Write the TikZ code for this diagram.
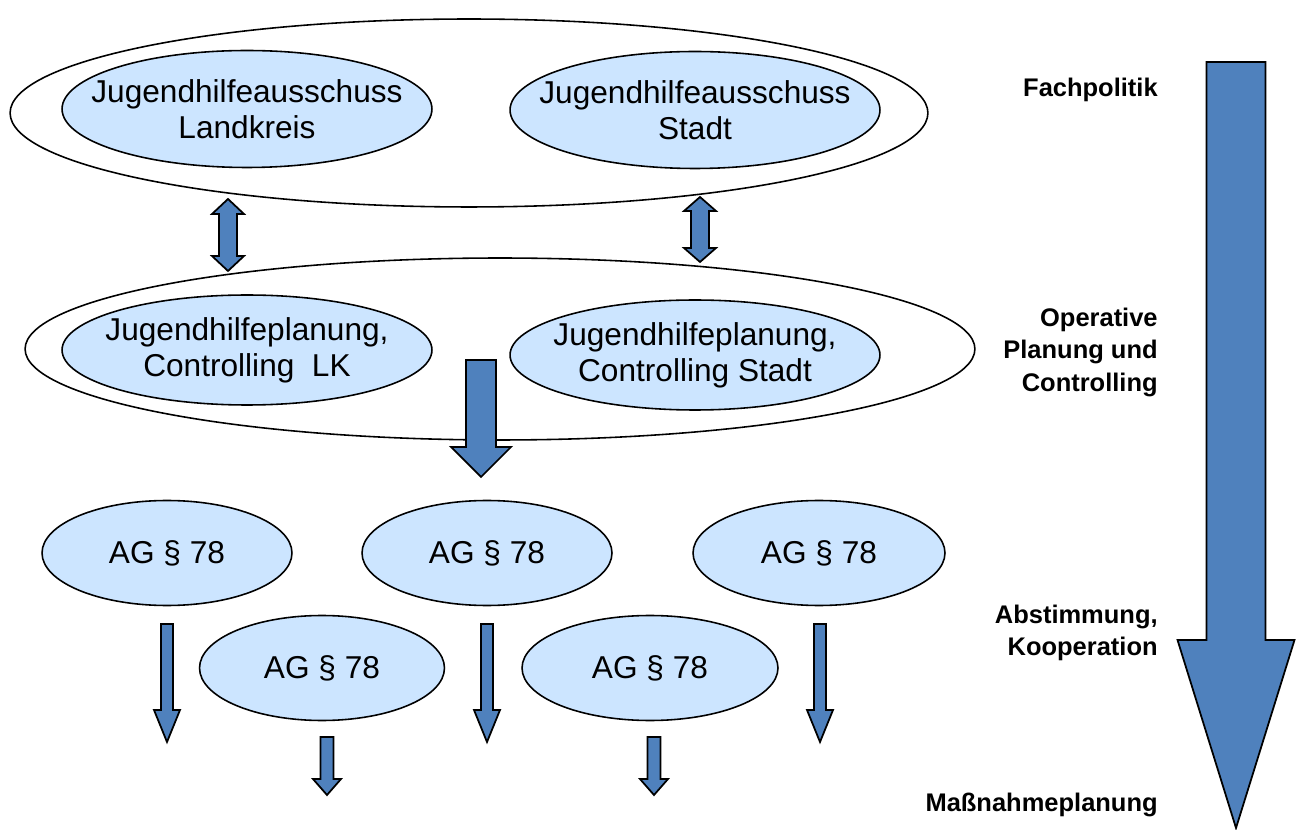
\documentclass[tikz,border=0pt]{standalone}
\usepackage{fontspec}
\setmainfont{Liberation Sans}
\usepackage{tikz}
\usetikzlibrary{shapes.geometric, positioning}

\definecolor{ellblau}{RGB}{204,229,255}
\definecolor{pfeilblau}{RGB}{79,129,189}

\tikzset{
  rahmen/.style={
    ellipse,
    draw=black,
    line width=0.9pt,
    fill=white
  },
  gremium/.style={
    ellipse,
    draw=black,
    line width=0.9pt,
    fill=ellblau,
    align=center,
    inner xsep=-0.6cm,
    inner ysep=0pt,
    font=\fontsize{18}{20.5}\selectfont
  },
  ebene/.style={
    anchor=east,
    align=right,
    inner sep=0pt,
    font=\fontsize{14.5}{18.5}\selectfont\bfseries
  },
  blockarrow/.style={
    draw=black,
    line width=1pt,
    fill=pfeilblau,
    line join=miter
  }
}

% Blockpfeil nach unten: x, oben, Schulter, Spitze, halbe Schaftbreite, halbe Kopfbreite
\newcommand{\abpfeil}[6]{%
  \draw[blockarrow] (#1-#5,#2) -- (#1+#5,#2) -- (#1+#5,#3) -- (#1+#6,#3)
    -- (#1,#4) -- (#1-#6,#3) -- (#1-#5,#3) -- cycle;}

% Doppelpfeil: x, Spitze oben, Schulter oben, Schulter unten, Spitze unten, halbe Schaftbreite, halbe Kopfbreite
\newcommand{\doppelpfeil}[7]{%
  \draw[blockarrow] (#1,#2) -- (#1+#7,#3) -- (#1+#6,#3) -- (#1+#6,#4) -- (#1+#7,#4)
    -- (#1,#5) -- (#1-#7,#4) -- (#1-#6,#4) -- (#1-#6,#3) -- (#1-#7,#3) -- cycle;}

\begin{document}
\begin{tikzpicture}[x=0.02cm, y=-0.02cm]
  \useasboundingbox (0,0) rectangle (1301,830);

  % Ebene Fachpolitik
  \node[rahmen, minimum width=18.36cm, minimum height=3.76cm] (politik) at (469,113) {};
  \node[gremium, minimum width=7.4cm, minimum height=2.34cm] (jhalk) at (247,109) {Jugendhilfeausschuss\\Landkreis};
  \node[gremium, minimum width=7.4cm, minimum height=2.34cm] (jhast) at (695,110) {Jugendhilfeausschuss\\Stadt};

  % Ebene Planung
  \node[rahmen, minimum width=19cm, minimum height=3.64cm] (planung) at (500,349) {};
  \node[gremium, minimum width=7.4cm, minimum height=2.2cm] (jhplk) at (247,350) {Jugendhilfeplanung,\\Controlling~~LK};
  \node[gremium, minimum width=7.4cm, minimum height=2.2cm] (jhpst) at (695,355) {Jugendhilfeplanung,\\Controlling Stadt};

  % Arbeitsgemeinschaften
  \node[gremium, minimum width=5cm, minimum height=2.1cm] (ag1) at (167,553) {AG \S\ 78};
  \node[gremium, minimum width=5cm, minimum height=2.1cm] (ag2) at (487,553) {AG \S\ 78};
  \node[gremium, minimum width=5.04cm, minimum height=2.1cm] (ag3) at (819,553) {AG \S\ 78};
  \node[gremium, minimum width=4.9cm, minimum height=2.1cm] (ag4) at (322,668) {AG \S\ 78};
  \node[gremium, minimum width=5.12cm, minimum height=2.1cm] (ag5) at (650,668) {AG \S\ 78};

  % Pfeile
  \doppelpfeil{228}{199}{214}{256}{271}{9}{16}
  \doppelpfeil{700}{197}{211}{248}{262}{9}{16}
  \abpfeil{481}{360}{447}{477}{15}{30}
  \abpfeil{167}{624}{710}{742}{6}{13}
  \abpfeil{487}{624}{710}{742}{6}{13}
  \abpfeil{820}{624}{710}{742}{6}{13}
  \abpfeil{327}{737}{779}{795}{6.5}{14}
  \abpfeil{654}{737}{779}{795}{6.5}{14}
  \abpfeil{1236}{62}{640}{828}{29.5}{58.5}

  % Ebenen rechts
  \node[ebene] (fach) at (1158,90) {Fachpolitik};
  \node[ebene] (oper) at (1158,352) {Operative\\Planung und\\Controlling};
  \node[ebene] (abst) at (1158,633) {Abstimmung,\\Kooperation};
  \node[ebene] (mass) at (1158,805) {Maßnahmeplanung};
\end{tikzpicture}
\end{document}
